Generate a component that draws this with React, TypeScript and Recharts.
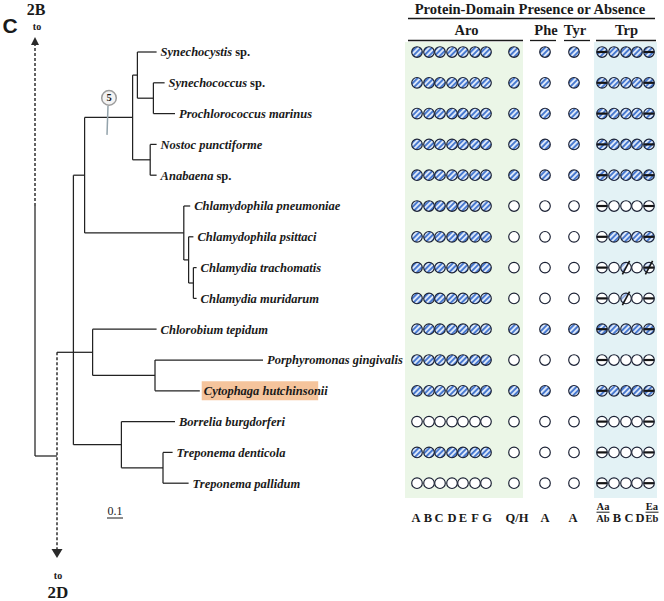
import {
  ComposedChart,
  XAxis,
  YAxis,
  Scatter,
  ReferenceLine,
  ReferenceArea,
  Customized,
} from 'recharts'

// ---- data ----

const species = [
  'Synechocystis sp.',
  'Synechococcus sp.',
  'Prochlorococcus marinus',
  'Nostoc punctiforme',
  'Anabaena sp.',
  'Chlamydophila pneumoniae',
  'Chlamydophila psittaci',
  'Chlamydia trachomatis',
  'Chlamydia muridarum',
  'Chlorobium tepidum',
  'Porphyromonas gingivalis',
  'Cytophaga hutchinsonii',
  'Borrelia burgdorferi',
  'Treponema denticola',
  'Treponema pallidum',
]
const highlighted = 'Cytophaga hutchinsonii'

// tip depth from the left edge of the tree (substitutions / site)
const tipDepth = [0.76, 0.81, 0.875, 0.76, 0.76, 0.97, 0.99, 1.01, 1.01, 0.76, 1.425, 1.03, 0.875, 0.86, 0.96]

// internal nodes, children are leaf indexes or clade ids
const clades: { id: string; depth: number; kids: (number | string)[] }[] = [
  { id: 'syn2', depth: 0.74, kids: [1, 2] },
  { id: 'syn1', depth: 0.64, kids: [0, 'syn2'] },
  { id: 'nos', depth: 0.72, kids: [3, 4] },
  { id: 'cyan', depth: 0.61, kids: ['syn1', 'nos'] },
  { id: 'chl3', depth: 0.99, kids: [7, 8] },
  { id: 'chl2', depth: 0.96, kids: [6, 'chl3'] },
  { id: 'chl1', depth: 0.93, kids: [5, 'chl2'] },
  { id: 'up', depth: 0.31, kids: ['cyan', 'chl1'] },
  { id: 'cyt', depth: 0.75, kids: [10, 11] },
  { id: 'bac', depth: 0.36, kids: [9, 'cyt'] },
  { id: 'tre', depth: 0.8, kids: [13, 14] },
  { id: 'spi', depth: 0.54, kids: [12, 'tre'] },
  { id: 'mid', depth: 0.24, kids: ['up', 'bac', 'spi'] },
]
const rootDepth = 0.1375
const bootstrapMark = { label: '5', depth: 0.4625, row: 1.49 }

const groups = ['Aro', 'Phe', 'Tyr', 'Trp']
const groupCols = [[0, 7], [8, 8], [9, 9], [10, 14]]
const domainCols = ['A', 'B', 'C', 'D', 'E', 'F', 'G', 'Q/H', 'A', 'A', 'Aa/Ab', 'B', 'C', 'D', 'Ea/Eb']

// H hatched (present), O open (absent), h/o with split bar, s slashed, z slashed + bar
const presence = [
  'HHHHHHHHHHhHHHh',
  'HHHHHHHHHHhHHHh',
  'HHHHHHHHHHhHHHh',
  'HHHHHHHHHHhHHHh',
  'HHHHHHHHHHhHHHh',
  'HHHHHHHOOOoOOOo',
  'HHHHHHHOOOoHHHh',
  'HHHHHHHOOOoOsOz',
  'HHHHHHHOOOoOsOo',
  'HHHHHHHHHHhHHHh',
  'HHHHHHHOOOoOOOo',
  'HHHHHHHHHHhHHHh',
  'OOOOOOOOOOoOOOo',
  'HHHHHHHOOOoOOOo',
  'OOOOOOOOOOoOOOo',
]

// ---- layout ----

const W = 664
const H = 601
const ROW0 = 52
const ROW_H = 30.8
const TREE_X0 = 35
const PX_PER_UNIT = 160
const COL_X = [417, 429, 440, 452, 463, 475, 486, 514, 545, 574, 602, 614, 626, 637, 649]
const LABEL_DX = [-1, -1, -1, 0, 0, 0, 1, 3, 0, -1, 1, 3, 3, 3, 3]
const HEADER_SPAN = [[408, 523], [530, 556], [564, 590], [596, 656]]
const row = (px: number) => (px - ROW0) / ROW_H

const serif = '"Liberation Serif", "Times New Roman", serif'
const ink = '#1a1a1a'

// ---- tree segments ----

type Seg = { x1: number; y1: number; x2: number; y2: number; dash?: boolean }
const nodeX: Record<string, number> = {}
const nodeY: Record<string, number> = {}
species.forEach((_, i) => {
  nodeX[i] = tipDepth[i]
  nodeY[i] = i
})
const segs: Seg[] = []
for (const c of clades) {
  const ys = c.kids.map((k) => nodeY[k])
  nodeX[c.id] = c.depth
  nodeY[c.id] = ys.length % 2 ? ys[(ys.length - 1) / 2] : (ys[0] + ys[ys.length - 1]) / 2
  segs.push({ x1: c.depth, y1: Math.min(...ys), x2: c.depth, y2: Math.max(...ys) })
  c.kids.forEach((k) => segs.push({ x1: c.depth, y1: nodeY[k], x2: nodeX[k], y2: nodeY[k] }))
}
const joinRow = row(456)
segs.push({ x1: rootDepth, y1: nodeY.mid, x2: nodeX.mid, y2: nodeY.mid })
segs.push({ x1: rootDepth, y1: nodeY.mid, x2: rootDepth, y2: row(550), dash: true })
segs.push({ x1: 0, y1: joinRow, x2: rootDepth, y2: joinRow })
segs.push({ x1: 0, y1: joinRow, x2: 0, y2: row(206) })
segs.push({ x1: 0, y1: row(206), x2: 0, y2: row(45), dash: true })

const arrows = [
  { x: 0, y: row(37), dir: 'up' },
  { x: rootDepth, y: row(558), dir: 'down' },
]

const leafData = species.map((name, i) => ({ x: tipDepth[i], y: i, name }))
const cellData = presence.flatMap((codes, i) =>
  codes.split('').map((code, j) => ({ x: COL_X[j], y: i, code }))
)
const colLabelData = domainCols.map((label, j) => ({ x: COL_X[j], y: row(517), label, j }))

// ---- shapes ----

function LeafLabel(props: any) {
  const { cx, cy, payload } = props
  const name: string = payload.name
  const sp = name.endsWith(' sp.')
  const main = sp ? name.slice(0, -4) : name
  return (
    <text x={cx + 4} y={cy + 4.3} fontFamily={serif} fontWeight="bold" fontSize={12.5} fill={ink}>
      <tspan fontStyle="italic">{main}</tspan>
      {sp && <tspan dx={3}>sp.</tspan>}
    </text>
  )
}

function DomainCell(props: any) {
  const { cx, cy, payload } = props
  const code: string = payload.code
  const r = 5.3
  const hatched = code === 'H' || code === 'h'
  const barred = code === 'h' || code === 'o' || code === 'z'
  const slashed = code === 's' || code === 'z'
  const a = (62 * Math.PI) / 180
  const ux = Math.cos(a)
  const uy = Math.sin(a)
  return (
    <g>
      <circle cx={cx} cy={cy} r={r} fill={hatched ? 'url(#hatch)' : '#fff'} />
      {slashed && (
        <path
          d={`M${cx + r * ux},${cy - r * uy} A${r},${r} 0 0 0 ${cx - r * ux},${cy + r * uy} Z`}
          fill="url(#hatch)"
          opacity={0.6}
        />
      )}
      {barred && <line x1={cx - r} y1={cy} x2={cx + r} y2={cy} stroke="#141414" strokeWidth={2.2} />}
      <circle cx={cx} cy={cy} r={r} fill="none" stroke="#1a2033" strokeWidth={1.15} />
      {slashed && (
        <line
          x1={cx - 1.45 * r * ux}
          y1={cy + 1.45 * r * uy}
          x2={cx + 1.45 * r * ux}
          y2={cy - 1.45 * r * uy}
          stroke="#141414"
          strokeWidth={1.6}
        />
      )}
    </g>
  )
}

function ColLabel(props: any) {
  const { cx, cy, payload } = props
  const label: string = payload.label
  const x = cx + LABEL_DX[payload.j]
  if (label.includes('/') && label !== 'Q/H') {
    const [top, bottom] = label.split('/')
    return (
      <g fontFamily={serif} fontWeight="bold" fontSize={10.5} fill={ink} textAnchor="middle">
        <text x={x} y={cy - 7}>{top}</text>
        <line x1={x - 6.5} y1={cy - 4.8} x2={x + 6.5} y2={cy - 4.8} stroke={ink} strokeWidth={1} />
        <text x={x} y={cy + 5}>{bottom}</text>
      </g>
    )
  }
  return (
    <text x={x} y={cy + 5} fontFamily={serif} fontWeight="bold" fontSize={12.5} fill={ink} textAnchor="middle">
      {label}
    </text>
  )
}

function Arrow(props: any) {
  const { cx, cy, payload } = props
  const d =
    payload.dir === 'up'
      ? `M${cx},${cy} L${cx - 4},${cy + 8} L${cx + 4},${cy + 8} Z`
      : `M${cx},${cy} L${cx - 5.5},${cy - 9} L${cx + 5.5},${cy - 9} Z`
  return <path d={d} fill="#2a2a2a" />
}

function BootMark(props: any) {
  const { cx, cy, payload } = props
  return (
    <g>
      <line x1={cx - 1} y1={cy + 8} x2={cx - 2} y2={cy + 37} stroke="#93a3ab" strokeWidth={1.5} />
      <circle cx={cx} cy={cy} r={7.3} fill="#f3f3f3" stroke="#9c9c9c" strokeWidth={1.5} />
      <text x={cx} y={cy + 3.6} textAnchor="middle" fontFamily={serif} fontWeight="bold" fontSize={10.5} fill={ink}>
        {payload.label}
      </text>
    </g>
  )
}

function Annotations() {
  return (
    <g fontFamily={serif} fontWeight="bold" fill={ink}>
      <text x={10} y={33} fontFamily='"Liberation Sans", Arial, sans-serif' fontSize={21} textAnchor="middle">
        C
      </text>
      <text x={36} y={15} fontSize={16} textAnchor="middle">2B</text>
      <text x={37} y={30} fontSize={10} textAnchor="middle">to</text>
      <text x={58} y={579} fontSize={10} textAnchor="middle">to</text>
      <text x={58} y={598} fontSize={17} textAnchor="middle">2D</text>
      <text x={115} y={515} fontSize={12} fontWeight="normal" textAnchor="middle">0.1</text>
      <text x={530} y={14} fontSize={14.6} textAnchor="middle">Protein-Domain Presence or Absence</text>
      <line x1={408} y1={18.5} x2={655} y2={18.5} stroke={ink} strokeWidth={1.5} />
      {groups.map((g, i) => {
        const [a, b] = groupCols[i]
        const [s, e] = HEADER_SPAN[i]
        return (
          <g key={g}>
            <text x={(COL_X[a] + COL_X[b]) / 2 + 1} y={35} fontSize={14.5} textAnchor="middle">
              {g}
            </text>
            <line x1={s} y1={40.5} x2={e} y2={40.5} stroke={ink} strokeWidth={1.3} />
          </g>
        )
      })}
    </g>
  )
}

export default function App() {
  return (
    <div style={{ position: 'absolute', left: 0, top: 0, width: W, height: H, background: '#fff' }}>
      <ComposedChart width={W} height={H} margin={{ top: 0, right: 0, bottom: 0, left: 0 }}>
        <defs>
          <pattern id="hatch" patternUnits="userSpaceOnUse" width={3.8} height={3.8} patternTransform="rotate(45)">
            <rect width={3.8} height={3.8} fill="#dce7f9" />
            <rect width={1.9} height={3.8} fill="#4879cf" />
          </pattern>
        </defs>
        <XAxis
          xAxisId="tree"
          type="number"
          dataKey="x"
          domain={[-TREE_X0 / PX_PER_UNIT, (W - TREE_X0) / PX_PER_UNIT]}
          allowDataOverflow
          hide
        />
        <XAxis xAxisId="grid" type="number" dataKey="x" domain={[0, W]} allowDataOverflow hide />
        <YAxis type="number" dataKey="y" domain={[row(0), row(H)]} reversed allowDataOverflow hide />

        <ReferenceArea xAxisId="grid" x1={405} x2={523} y1={row(42)} y2={row(498)} fill="#ebf6e7" fillOpacity={1} stroke="none" />
        <ReferenceArea xAxisId="grid" x1={594} x2={657} y1={row(42)} y2={row(498)} fill="#e3f2f5" fillOpacity={1} stroke="none" />
        <ReferenceArea
          xAxisId="tree"
          x1={tipDepth[species.indexOf(highlighted)] + 0.012}
          x2={tipDepth[species.indexOf(highlighted)] + 0.74}
          y1={species.indexOf(highlighted) - 0.31}
          y2={species.indexOf(highlighted) + 0.31}
          fill="#f5c49c"
          fillOpacity={1}
          stroke="none"
        />

        {segs.map((s, i) => (
          <ReferenceLine
            key={i}
            xAxisId="tree"
            segment={[{ x: s.x1, y: s.y1 }, { x: s.x2, y: s.y2 }]}
            stroke="#222"
            strokeWidth={s.dash ? 1.4 : 1.25}
            strokeDasharray={s.dash ? '3 2' : undefined}
            ifOverflow="visible"
          />
        ))}
        <ReferenceLine
          xAxisId="tree"
          segment={[{ x: 0.45, y: row(518) }, { x: 0.55, y: row(518) }]}
          stroke={ink}
          strokeWidth={1}
          ifOverflow="visible"
        />

        <Scatter xAxisId="tree" data={arrows} shape={Arrow} isAnimationActive={false} />
        <Scatter xAxisId="tree" data={[{ x: bootstrapMark.depth, y: bootstrapMark.row, label: bootstrapMark.label }]} shape={BootMark} isAnimationActive={false} />
        <Scatter xAxisId="tree" data={leafData} shape={LeafLabel} isAnimationActive={false} />
        <Scatter xAxisId="grid" data={cellData} shape={DomainCell} isAnimationActive={false} />
        <Scatter xAxisId="grid" data={colLabelData} shape={ColLabel} isAnimationActive={false} />
        <Customized component={Annotations} />
      </ComposedChart>
    </div>
  )
}
